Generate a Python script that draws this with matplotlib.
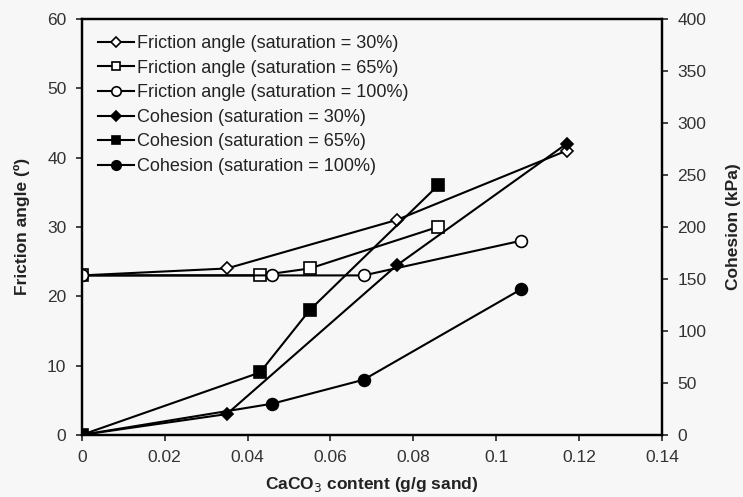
import matplotlib
matplotlib.use("Agg")
import matplotlib.pyplot as plt

plt.rcParams['font.family'] = ['Liberation Sans', 'DejaVu Sans']

# CaCO3 content (g/g sand) and values per series
x_fa30 = [0, 0.035, 0.076, 0.117]
fa30 = [23, 24, 31, 41]
x_fa65 = [0, 0.043, 0.055, 0.086]
fa65 = [23, 23, 24, 30]
x_fa100 = [0, 0.046, 0.068, 0.106]
fa100 = [23, 23, 23, 28]

x_c30 = [0, 0.035, 0.076, 0.117]
c30 = [0, 20, 163, 280]
x_c65 = [0, 0.043, 0.055, 0.086]
c65 = [0, 60, 120, 240]
x_c100 = [0, 0.046, 0.068, 0.106]
c100 = [0, 30, 53, 140]

labels_fa = ["Friction angle (saturation = 30%)",
             "Friction angle (saturation = 65%)",
             "Friction angle (saturation = 100%)"]
labels_c = ["Cohesion (saturation = 30%)",
            "Cohesion (saturation = 65%)",
            "Cohesion (saturation = 100%)"]

bg = "#f7f7f7"
fig = plt.figure(figsize=(7.43, 4.97), dpi=100, facecolor=bg)
ax = fig.add_axes([0.110, 0.125, 0.781, 0.837])
ax.set_facecolor(bg)
ax2 = ax.twinx()

kw = dict(color="black", lw=1.5, markeredgecolor="black", markeredgewidth=1.2)
h = []
h += ax.plot(x_fa30, fa30, marker="D", ms=6.5, mfc="white", label=labels_fa[0], **kw)
h += ax.plot(x_fa65, fa65, marker="s", ms=8, mfc="white", label=labels_fa[1], **kw)
h += ax.plot(x_fa100, fa100, marker="o", ms=8.5, mfc="white", label=labels_fa[2], **kw)
h += ax2.plot(x_c30, c30, marker="D", ms=6.5, mfc="black", label=labels_c[0], **kw)
h += ax2.plot(x_c65, c65, marker="s", ms=8, mfc="black", label=labels_c[1], **kw)
h += ax2.plot(x_c100, c100, marker="o", ms=8.5, mfc="black", label=labels_c[2], **kw)

ax.set_xlim(0, 0.14)
ax.set_ylim(0, 60)
ax2.set_ylim(0, 400)
ax.set_xticks([0, 0.02, 0.04, 0.06, 0.08, 0.1, 0.12, 0.14])
ax.set_xticklabels(["0", "0.02", "0.04", "0.06", "0.08", "0.1", "0.12", "0.14"])
ax.set_yticks(range(0, 61, 10))
ax2.set_yticks(range(0, 401, 50))

for a in (ax, ax2):
    for s in a.spines.values():
        s.set_linewidth(1.6)
    a.tick_params(direction="out", length=4, width=1.3, labelsize=12.5,
                  colors="#333333", pad=7)

ax.set_xlabel("CaCO$_3$ content (g/g sand)", fontsize=12.5, fontweight="bold",
              labelpad=7, color="#222222")
ax.set_ylabel("Friction angle (º)", fontsize=12.5, fontweight="bold",
              labelpad=12, color="#222222")
ax2.set_ylabel("Cohesion (kPa)", fontsize=12.5, fontweight="bold",
               labelpad=14, color="#222222")

leg = ax.legend(handles=h, loc="upper left", frameon=False, fontsize=13,
                handlelength=2.0, handletextpad=0.15, labelspacing=0.42,
                borderaxespad=0.5, markerscale=0.8, bbox_to_anchor=(0.0, 1.0))
for t in leg.get_texts():
    t.set_color("#222222")

fig.savefig("out.png", dpi=100, facecolor=bg)
